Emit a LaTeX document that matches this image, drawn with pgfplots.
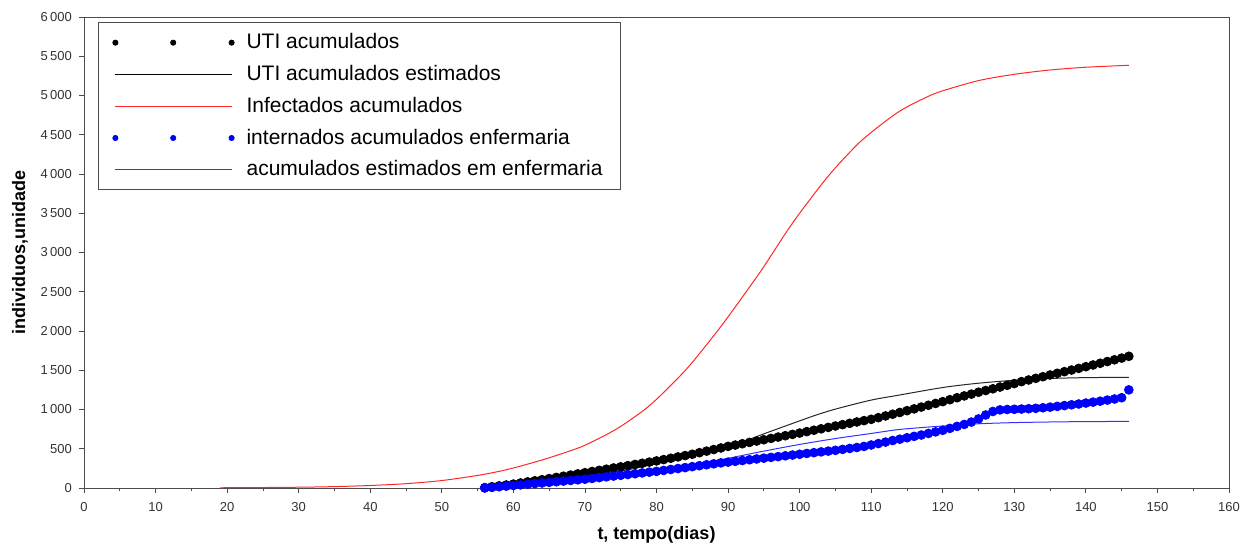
\documentclass[border=0pt]{standalone}
\usepackage{pgfplots}
\pgfplotsset{compat=1.18}
\usepackage{fontspec}
\setmainfont{Liberation Sans}
\definecolor{myblue}{RGB}{0,0,255}
\definecolor{mylblue}{RGB}{50,50,255}
\definecolor{myred}{RGB}{255,40,40}
\begin{document}
\begin{tikzpicture}
\path[use as bounding box] (-42bp,-29bp) rectangle (578.5bp,244bp);
\begin{axis}[
  scale only axis, width=572.5bp, height=235.5bp,
  xmin=0, xmax=160, ymin=0, ymax=6000,
  xtick={0,10,...,160}, minor x tick num=1,
  ytick={0,500,...,6000},
  xtick pos=lower, ytick pos=left,
  tick align=outside,
  major tick length=2.6bp, minor tick length=1.6bp,
  axis line style={draw=black!70},
  every tick/.style={draw=black!70},
  /pgf/number format/assume math mode=true,
  /pgf/number format/1000 sep={\,},
  ticklabel style={font=\fontsize{6.5bp}{7.5bp}\selectfont, text=black!80},
  xticklabel style={yshift=-1bp},
  every axis y label/.style={at={(axis description cs:-0.056,0.5)}, rotate=90, anchor=center},
  every axis x label/.style={at={(axis description cs:0.5,-0.10)}, anchor=center},
  xlabel={t, tempo(dias)},
  ylabel={individuos,unidade},
  label style={font=\fontsize{9bp}{10bp}\selectfont\bfseries},
  legend style={at={(rel axis cs:0.0122,0.989)}, anchor=north west,
    draw=black!70, font=\fontsize{10.5bp}{12bp}\selectfont,
    inner xsep=7bp, inner ysep=3.5bp, row sep=2.8bp,
    cells={anchor=west},
    /tikz/every odd column/.append style={column sep=4bp}},
]
\addplot[only marks, mark=*, mark size=2.2bp, black,
  legend image code/.code={\fill[black] (0cm,0cm) circle (1.3bp) (1.02cm,0cm) circle (1.3bp) (2.05cm,0cm) circle (1.3bp);}]
coordinates {
(56,5)(57,16)(58,27)(59,38)(60,50)(61,64)(62,78)(63,92)(64,106)(65,120)
(66,135)(67,150)(68,165)(69,180)(70,195)(71,210)(72,225)(73,240)(74,255)(75,270)
(76,285)(77,300)(78,315)(79,330)(80,345)(81,362)(82,379)(83,396)(84,413)(85,430)
(86,450)(87,470)(88,490)(89,510)(90,530)(91,547)(92,564)(93,581)(94,598)(95,615)
(96,632)(97,649)(98,666)(99,683)(100,700)(101,718)(102,736)(103,754)(104,772)(105,790)
(106,807)(107,824)(108,841)(109,858)(110,875)(111,896)(112,918)(113,940)(114,962)(115,985)
(116,1008)(117,1031)(118,1054)(119,1077)(120,1100)(121,1125)(122,1150)(123,1173)(124,1196)(125,1220)
(126,1242)(127,1264)(128,1286)(129,1308)(130,1330)(131,1355)(132,1376)(133,1397)(134,1418)(135,1440)
(136,1461)(137,1482)(138,1503)(139,1524)(140,1545)(141,1567)(142,1589)(143,1611)(144,1633)(145,1655)
(146,1678)};
\addlegendentry{UTI acumulados}
\addplot[black!85, line width=0.5bp, smooth,
  legend image code/.code={\draw[black] (0cm,0cm) -- (2.05cm,0cm);}]
coordinates {
(56,0)(60,30)(65,78)(70,140)(75,215)(80,310)(85,420)(88,485)(90,530)(92,585)(95,690)
(100,855)(102,920)(105,1005)(110,1120)(114,1185)(120,1280)(125,1335)(130,1372)
(135,1395)(140,1406)(146,1410)};
\addlegendentry{UTI acumulados estimados}
\addplot[myred, line width=0.5bp, smooth,
  legend image code/.code={\draw[myred] (0cm,0cm) -- (2.05cm,0cm);}]
coordinates {
(19,3)(25,6)(30,10)(33,14)(36,20)(40,32)(45,55)(50,95)(55,160)(58,212)(60,255)
(63,330)(65,385)(68,475)(70,545)(73,680)(75,785)(78,975)(80,1130)(83,1400)(85,1600)
(88,1940)(90,2180)(93,2560)(95,2820)(98,3240)(100,3500)(103,3860)(105,4080)(108,4370)
(110,4530)(113,4740)(115,4855)(118,4990)(120,5060)(125,5190)(130,5270)(135,5325)
(140,5360)(146,5385)};
\addlegendentry{Infectados acumulados}
\addplot[only marks, mark=*, mark size=2.2bp, myblue,
  legend image code/.code={\fill[myblue] (0cm,0cm) circle (1.3bp) (1.02cm,0cm) circle (1.3bp) (2.05cm,0cm) circle (1.3bp);}]
coordinates {
(56,0)(57,8)(58,16)(59,24)(60,32)(61,40)(62,48)(63,56)(64,64)(65,72)
(66,80)(67,88)(68,96)(69,104)(70,112)(71,122)(72,132)(73,142)(74,152)(75,162)
(76,172)(77,182)(78,192)(79,202)(80,212)(81,224)(82,236)(83,248)(84,260)(85,272)
(86,284)(87,296)(88,308)(89,320)(90,330)(91,340)(92,350)(93,360)(94,370)(95,380)
(96,390)(97,400)(98,410)(99,420)(100,430)(101,440)(102,450)(103,460)(104,470)(105,480)
(106,492)(107,504)(108,516)(109,530)(110,548)(111,566)(112,585)(113,605)(114,622)(115,640)
(116,658)(117,675)(118,695)(119,715)(120,735)(121,760)(122,785)(123,810)(124,840)(125,880)
(126,930)(127,975)(128,995)(129,1000)(130,1003)(131,1006)(132,1010)(133,1015)(134,1022)(135,1030)
(136,1040)(137,1050)(138,1060)(139,1070)(140,1082)(141,1094)(142,1106)(143,1120)(144,1134)(145,1150)
(146,1250)};
\addlegendentry{internados acumulados enfermaria}
\addplot[mylblue, line width=0.5bp, smooth,
  legend image code/.code={\draw[mylblue] (0cm,0cm) -- (2.05cm,0cm);}]
coordinates {
(56,0)(60,25)(65,62)(70,108)(75,160)(80,222)(85,295)(90,378)(92,415)(95,470)
(100,555)(105,630)(110,695)(113,735)(115,755)(120,790)(125,818)(130,833)(135,841)
(140,846)(146,848)};
\addlegendentry{acumulados estimados em enfermaria}
\end{axis}
\end{tikzpicture}
\end{document}
